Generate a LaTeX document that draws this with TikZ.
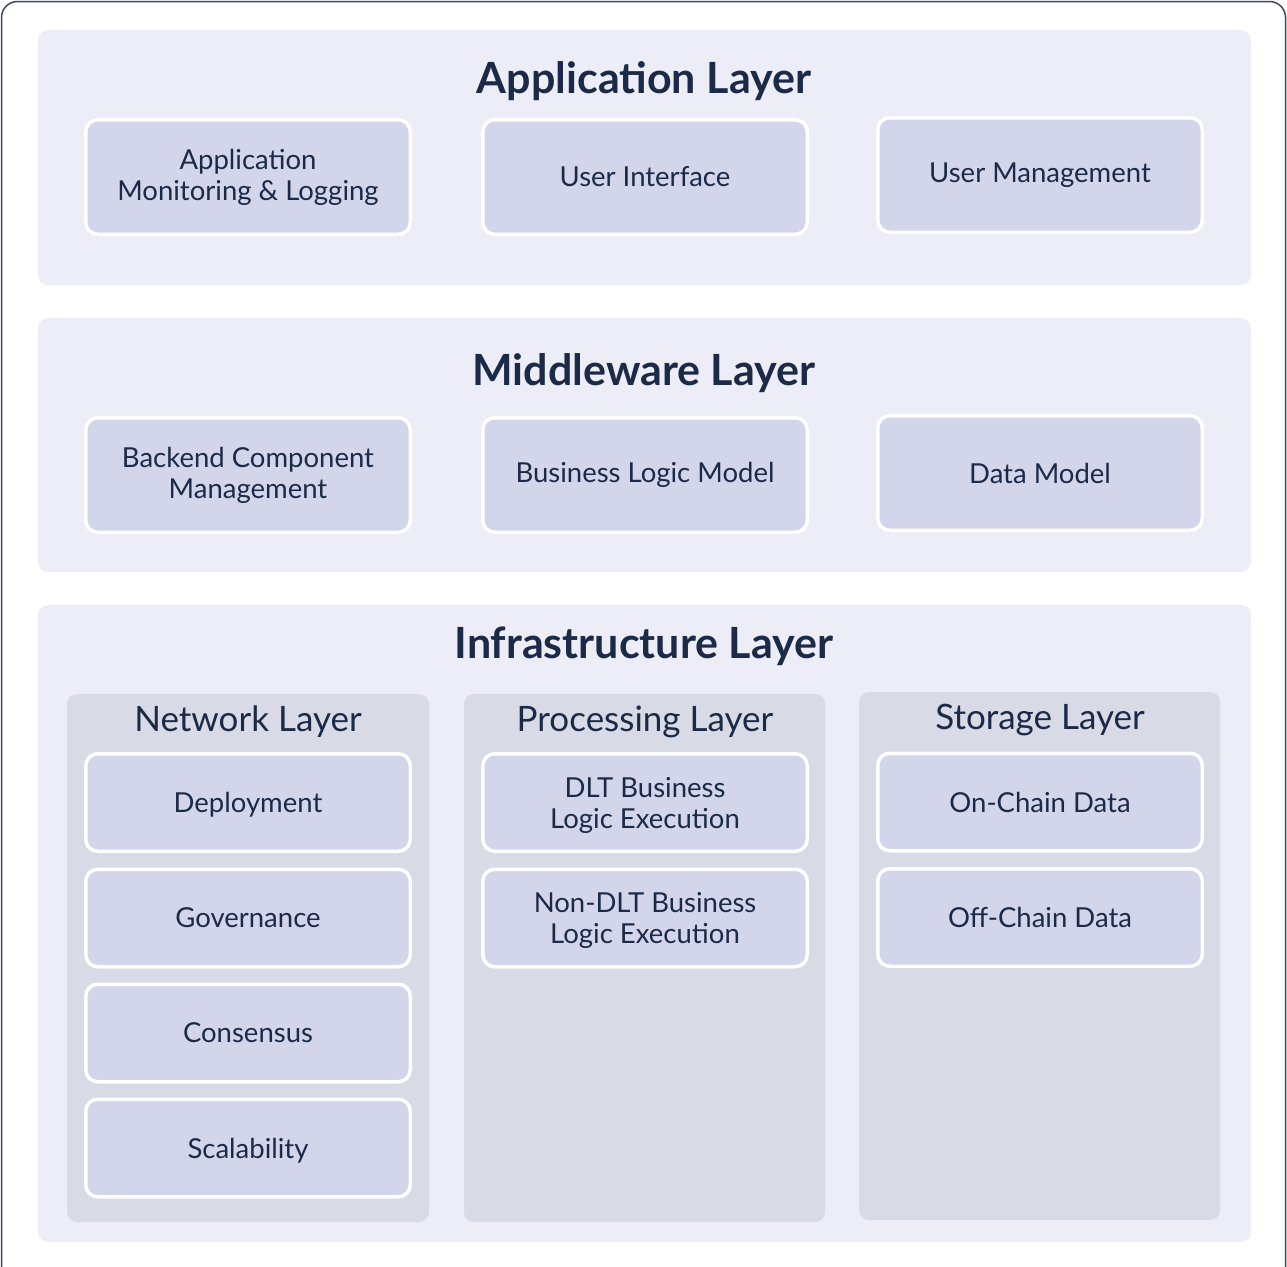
\documentclass[tikz,border=0pt]{standalone}
\usepackage{fontspec}
\setmainfont{Lato}
\usetikzlibrary{positioning}
\definecolor{ink}{HTML}{1B2A47}
\definecolor{framecol}{HTML}{3B4A5E}
\definecolor{layerbg}{HTML}{EDEDF7}
\definecolor{subbg}{HTML}{D8DAE6}
\definecolor{boxbg}{HTML}{D3D5EB}
\begin{document}
\begin{tikzpicture}
[x=1pt, y=-1pt, line width=3.5pt,
layer/.style={rectangle, rounded corners=10pt, fill=layerbg, inner sep=0pt, minimum width=1213pt},
sublayer/.style={rectangle, rounded corners=10pt, fill=subbg, inner sep=0pt, minimum width=362pt, minimum height=528pt},
comp/.style={rectangle, rounded corners=12pt, draw=white, fill=boxbg, inner sep=0pt, minimum width=324.5pt, minimum height=114.5pt, align=center, text=ink, font=\fontsize{27.5}{31}\selectfont},
shortcomp/.style={comp, minimum height=97.5pt, text depth=0pt},
heading/.style={text=ink, inner sep=0pt, font=\fontsize{43}{50}\selectfont\bfseries},
subheading/.style={text=ink, inner sep=0pt, font=\fontsize{35}{40}\selectfont}]

\clip (0,0) rectangle (1287,1266);
\draw[draw=framecol, line width=1.5pt, rounded corners=16pt] (1.5,1.5) rectangle (1285.5,1290);

% application layer
\node[layer, minimum height=255pt] (app) at (644.5,157.5) {};
\node[heading] (apptitle) at (644,81) {Application Layer};
\node[comp] (monitor) at (248,177) {Application\\Monitoring \& Logging};
\node[comp] (ui) at (645,177) {User Interface};
\node[comp] (usermgmt) at (1040,175) {User Management};

% middleware layer
\node[layer, minimum height=254pt] (mid) at (644.5,445) {};
\node[heading] (midtitle) at (644,373) {Middleware Layer};
\node[comp] (backend) at (248,475) {Backend Component\\Management};
\node[comp] (bizlogic) at (645,475) {Business Logic Model};
\node[comp] (datamodel) at (1040,473) {Data Model};

% infrastructure layer
\node[layer, minimum height=637pt] (infra) at (644.5,923.5) {};
\node[heading] (infratitle) at (644,646) {Infrastructure Layer};

\node[sublayer] (net) at (248,958) {};
\node[sublayer, minimum width=361pt] (proc) at (644.5,958) {};
\node[sublayer, minimum width=361pt] (stor) at (1039.5,956) {};

\node[subheading] (nettitle) at (248,722) {Network Layer};
\node[subheading] (proctitle) at (645,722) {Processing Layer};
\node[subheading] (stortitle) at (1040,720) {Storage Layer};

\node[shortcomp] (deploy) at (248,802.5) {Deployment};
\node[shortcomp] (gov) at (248,918) {Governance};
\node[shortcomp] (cons) at (248,1033) {Consensus};
\node[shortcomp] (scal) at (248,1148) {Scalability};

\node[shortcomp] (dltexec) at (645,802.5) {DLT Business\\Logic Execution};
\node[shortcomp] (nondltexec) at (645,918) {Non-DLT Business\\Logic Execution};

\node[shortcomp] (onchain) at (1040,802) {On-Chain Data};
\node[shortcomp] (offchain) at (1040,917.5) {Off-Chain Data};

\end{tikzpicture}
\end{document}
